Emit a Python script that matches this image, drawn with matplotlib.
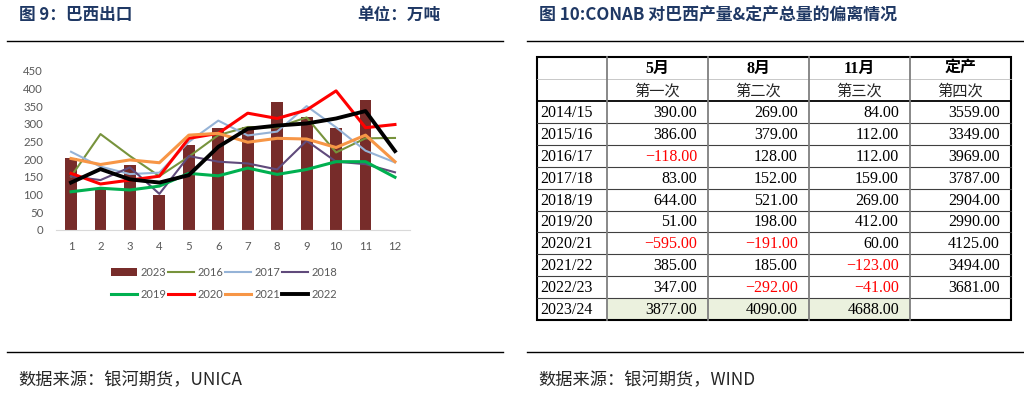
import numpy as np
import matplotlib
matplotlib.use('Agg')
import matplotlib.pyplot as plt
from matplotlib.patches import Rectangle

plt.rcParams['font.family'] = ['Noto Sans CJK SC', 'DejaVu Sans']

# ── Data: Brazil exports (10k t) ───────────────────────────────────────────
months = list(range(1, 13))
exp_2023 = [202, 115, 183, 98, 241, 287, 292, 361, 320, 289, 367, None]
exp_2016 = [151, 271, 209, 152, 207, 268, 291, 290, 318, 219, 259, 260]
exp_2017 = [221, 179, 158, 162, 249, 309, 267, 278, 350, 290, 224, 191]
exp_2018 = [152, 141, 177, 102, 209, 193, 188, 171, 252, 193, 186, 163]
exp_2019 = [108, 118, 113, 124, 160, 153, 175, 157, 171, 193, 193, 149]
exp_2020 = [160, 130, 141, 152, 259, 273, 330, 315, 339, 393, 289, 298]
exp_2021 = [202, 185, 198, 190, 268, 273, 248, 259, 257, 233, 268, 193]
exp_2022 = [134, 172, 143, 134, 155, 235, 286, 295, 301, 315, 336, 223]

# ── Data: CONAB deviation table ───────────────────────────────────────────
seasons = ['2014/15', '2015/16', '2016/17', '2017/18', '2018/19', '2019/20',
           '2020/21', '2021/22', '2022/23', '2023/24']
dev_may = [390, 386, -118, 83, 644, 51, -595, 385, 347, 3877]
dev_aug = [269, 379, 128, 152, 521, 198, -191, 185, -292, 4090]
dev_nov = [84, 112, 112, 159, 269, 412, 60, -123, -41, 4688]
final_prod = [3559, 3349, 3969, 3787, 2904, 2990, 4125, 3494, 3681, None]
head_month = ['5月', '8月', '11月', '定产']
head_round = ['第一次', '第二次', '第三次', '第四次']

NAVY = '#1F3864'
GRAY = '#595959'

fig = plt.figure(figsize=(10.24, 3.99), dpi=100)

# ── Left: export chart ─────────────────────────────────────────────────────
ax = fig.add_axes([56.3 / 1024, 1 - 230 / 399, 353.4 / 1024, 159.3 / 399])
x = np.array(months)
bar_vals = [np.nan if v is None else v for v in exp_2023]
ax.bar(x, bar_vals, width=0.4, color='#772C2A', label='2023', zorder=1)

series = [
    ('2016', exp_2016, '#77933C', 1.5),
    ('2017', exp_2017, '#95B3D7', 1.5),
    ('2018', exp_2018, '#604A7B', 1.5),
    ('2019', exp_2019, '#00B050', 2.2),
    ('2020', exp_2020, '#FF0000', 2.2),
    ('2021', exp_2021, '#F79646', 2.2),
    ('2022', exp_2022, '#000000', 2.8),
]
handles = {}
for name, vals, col, lw in series:
    handles[name], = ax.plot(x, vals, color=col, lw=lw, label=name, zorder=2)
handles['2023'] = ax.patches[0]

ax.set_xlim(0.5, 12.5)
ax.set_ylim(0, 450)
ax.set_yticks(range(0, 451, 50))
ax.set_xticks(months)
for s in ['top', 'right', 'left']:
    ax.spines[s].set_visible(False)
ax.spines['bottom'].set_color('#D9D9D9')
ax.tick_params(axis='both', length=0, labelsize=8.2, labelcolor=GRAY, pad=8)
ax.tick_params(axis='y', pad=9.5)
for lab in ax.get_xticklabels() + ax.get_yticklabels():
    lab.set_fontfamily('Lato')

order = ['2023', '2019', '2016', '2020', '2017', '2021', '2018', '2022']
leg = ax.legend([handles[k] for k in order], order, ncol=4, frameon=False,
                loc='upper center', bbox_to_anchor=(0.475, -0.17),
                prop={'family': 'Lato', 'size': 8}, handlelength=2.3,
                handletextpad=0.3, columnspacing=0.2, labelspacing=1.0)
for t in leg.get_texts():
    t.set_color(GRAY)

# ── Overlay (pixel coordinates) for headings, rules and table ─────────────
ov = fig.add_axes([0, 0, 1, 1], zorder=5)
ov.set_xlim(0, 1024)
ov.set_ylim(399, 0)
ov.axis('off')
ov.patch.set_alpha(0)

ov.text(19, 15, '图 9：巴西出口', fontsize=12, fontweight='bold', color=NAVY, va='center')
ov.text(357, 15, '单位：万吨', fontsize=12, fontweight='bold', color=NAVY, va='center')
ov.text(539, 15, '图 10:CONAB 对巴西产量&定产总量的偏离情况', fontsize=12.2,
        fontweight='bold', color=NAVY, va='center')
for x0, x1 in [(7, 503), (527, 1024)]:
    ov.plot([x0, x1], [41, 41], color='black', lw=1.0)
    ov.plot([x0, x1], [352, 352], color='black', lw=1.0)
ov.text(18, 380, '数据来源：银河期货，UNICA', fontsize=12.4, color='#262626', va='center')
ov.text(538, 380, '数据来源：银河期货，WIND', fontsize=12.4, color='#262626', va='center')

# table geometry
col_edges = [537, 607, 708, 809, 910, 1011]
head_edges = [57, 79, 101]
row_h = (320 - 101) / len(seasons)
row_edges = [101 + i * row_h for i in range(len(seasons) + 1)]
tfont = ['Liberation Serif', 'Noto Sans CJK SC']

# highlighted last row
for c in range(1, 4):
    ov.add_patch(Rectangle((col_edges[c], row_edges[-2]), col_edges[c + 1] - col_edges[c],
                           row_h, facecolor='#EBF1DE', edgecolor='none', zorder=0))

# rules
ov.plot([col_edges[0], col_edges[-1]], [head_edges[1]] * 2, color='#BFBFBF', lw=0.6)
ov.plot([col_edges[0], col_edges[-1]], [head_edges[2]] * 2, color='black', lw=1.3)
for y in row_edges[1:-1]:
    ov.plot([col_edges[0], col_edges[-1]], [y, y], color='#404040', lw=0.8)
for xe in col_edges[1:-1]:
    ov.plot([xe, xe], [head_edges[0], row_edges[-1]], color='#7F7F7F', lw=1.3)
ov.add_patch(Rectangle((col_edges[0], head_edges[0]), col_edges[-1] - col_edges[0],
                       row_edges[-1] - head_edges[0], fill=False, edgecolor='black', lw=1.5))

# header
for c in range(4):
    cx = (col_edges[c + 1] + col_edges[c + 2]) / 2
    ov.text(cx, (head_edges[0] + head_edges[1]) / 2 + 1, head_month[c], ha='center', va='center',
            fontsize=11.5, fontweight='bold', family=tfont)
    ov.text(cx, (head_edges[1] + head_edges[2]) / 2 + 1, head_round[c], ha='center', va='center',
            fontsize=11, color='#262626', family=tfont)

# body
for r, season in enumerate(seasons):
    cy = (row_edges[r] + row_edges[r + 1]) / 2 + 1
    ov.text(col_edges[0] + 3, cy, season, ha='left', va='center', fontsize=11.5, family=tfont)
    for c, col in enumerate([dev_may, dev_aug, dev_nov, final_prod]):
        v = col[r]
        if v is None:
            continue
        ov.text(col_edges[c + 2] - 11, cy, f'{v:.2f}'.replace('-', '\u2212'), ha='right', va='center',
                fontsize=11.5, family=tfont, color='#FF0000' if v < 0 else 'black')

fig.savefig('out.png', dpi=100)
